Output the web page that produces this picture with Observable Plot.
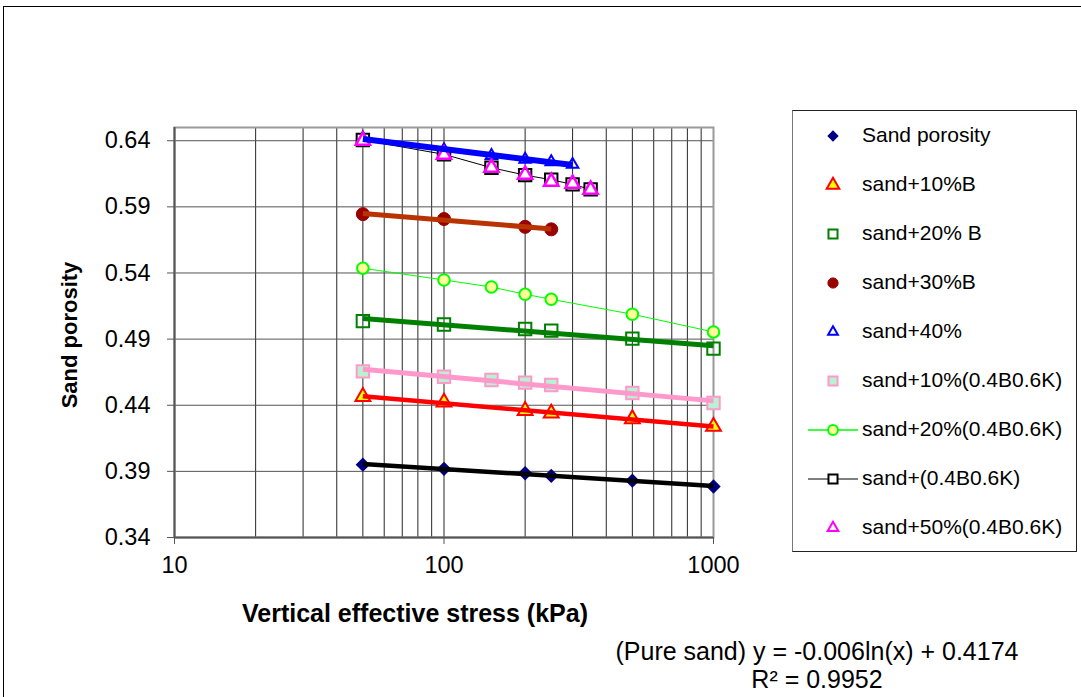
<!DOCTYPE html>
<html><head><meta charset="utf-8">
<script src="https://cdn.jsdelivr.net/npm/d3@7"></script>
<script src="https://cdn.jsdelivr.net/npm/@observablehq/plot@0.6"></script>
<style>
body{margin:0;background:#fff;font-family:Arial,"Liberation Sans",sans-serif;}
#wrap{position:relative;width:1081px;height:697px;overflow:hidden;background:#fff;}
#border{position:absolute;left:3px;top:6px;width:1200px;height:900px;border-top:1.5px solid #000;border-left:1.5px solid #000;box-sizing:border-box;}
#chart{position:absolute;left:0;top:0;}
#legend{position:absolute;left:792px;top:110px;width:285px;height:442px;border:1.5px solid #222;border-left-color:#777;box-sizing:border-box;background:#fff;}
.lrow{position:absolute;left:0;height:30px;display:flex;align-items:center;}
.lrow svg{position:absolute;left:12px;top:0;}
.lrow span{position:absolute;left:69px;white-space:nowrap;font-size:21px;color:#000;}
#xtitle{position:absolute;left:165px;width:500px;top:599px;text-align:center;font-weight:bold;font-size:25px;}
#ytitle{position:absolute;left:-130px;width:400px;top:322px;text-align:center;font-weight:bold;font-size:22px;transform:rotate(-90deg);}
#eq{position:absolute;left:567px;width:500px;top:637px;text-align:center;font-size:25px;line-height:28px;}
</style></head>
<body>
<div id="wrap">
  <div id="border"></div>
  <div id="chart"></div>
  <div id="legend"></div>
  <div id="xtitle">Vertical effective stress (kPa)</div>
  <div id="ytitle">Sand porosity</div>
  <div id="eq">(Pure sand) y = -0.006ln(x) + 0.4174<br>R² = 0.9952</div>
</div>
<script>
// ---- data ----
const stressA = [50, 100, 200, 250, 500, 1000];
const sandPorosity = [0.3951, 0.3919, 0.3886, 0.3866, 0.3830, 0.3785];
const sand10B = [0.4465, 0.4422, 0.4359, 0.4339, 0.4297, 0.4239];
const sand20B = [0.5036, 0.5010, 0.4977, 0.4964, 0.4904, 0.4828];
const stress30B = [50, 100, 200, 250];
const sand30B = [0.5845, 0.5808, 0.5749, 0.5730];
const stress40 = [50, 100, 150, 200, 250, 300];
const sand40 = [0.6420, 0.6330, 0.6287, 0.6259, 0.6240, 0.6220];
const stressK = [50, 100, 150, 200, 250, 500, 1000];
const sand10K = [0.4656, 0.4616, 0.4591, 0.4571, 0.4553, 0.4493, 0.4417];
const sand20K = [0.5436, 0.5347, 0.5294, 0.5239, 0.5201, 0.5088, 0.4954];
const stressK2 = [50, 100, 150, 200, 250, 300, 350];
const sandK = [0.6405, 0.6297, 0.6196, 0.6140, 0.6105, 0.6070, 0.6032];
const sand50K = [0.6400, 0.6294, 0.6196, 0.6143, 0.6090, 0.6075, 0.6030];

const xTicks = [10, 100, 1000];
const xGrid = [10,20,30,40,50,60,70,80,90,100,200,300,400,500,600,700,800,900,1000];
const yTicks = [0.34, 0.39, 0.44, 0.49, 0.54, 0.59, 0.64];

const labels = ["Sand porosity","sand+10%B","sand+20% B","sand+30%B","sand+40%",
  "sand+10%(0.4B0.6K)","sand+20%(0.4B0.6K)","sand+(0.4B0.6K)","sand+50%(0.4B0.6K)"];

// ---- series styling ----
const series = [
  {xs: stressA, ys: sandPorosity, symbol: "diamond2", r: 6.5, fill: "#000080", stroke: "none", sw: 0, trend: {stroke: "#000", w: 4.5}},
  {xs: stressA, ys: sand10B, symbol: "triangle", r: 5.5, fill: "#ffff00", stroke: "#ff0000", sw: 2, trend: {stroke: "#ff0000", w: 4.5}},
  {xs: stressA, ys: sand20B, symbol: "square", r: 7, fill: "none", stroke: "#008000", sw: 2, trend: {stroke: "#008000", w: 5}},
  {xs: stress30B, ys: sand30B, symbol: "circle", r: 6.5, fill: "#990000", stroke: "#990000", sw: 1, trend: {stroke: "#b83300", w: 5}},
  {xs: stress40, ys: sand40, symbol: "triangle2", r: 5.5, fill: "none", stroke: "#0000ff", sw: 2, trend: {stroke: "#0000ff", w: 6}},
  {xs: stressK, ys: sand10K, symbol: "square", r: 7, fill: "#b9f2d0", stroke: "#ff99cc", sw: 2, trend: {stroke: "#ff99cc", w: 5}},
  {xs: stressK, ys: sand20K, symbol: "circle", r: 5.8, fill: "#ffff99", stroke: "#00ff00", sw: 2, line: {stroke: "#00ff00", w: 1}},
  {xs: stressK2, ys: sandK, symbol: "square", r: 7, fill: "#fff", stroke: "#000", sw: 2, line: {stroke: "#000", w: 1}},
  {xs: stressK2, ys: sand50K, symbol: "triangle2", r: 6.8, fill: "none", stroke: "#ff00ff", sw: 2.5}
];

const rows = (s) => s.xs.map((x, i) => ({x, y: s.ys[i]}));
function logFit(xs, ys) {
  const lx = xs.map(Math.log);
  const mx = d3.mean(lx), my = d3.mean(ys);
  const a = d3.sum(lx, (v, i) => (v - mx) * (ys[i] - my)) / d3.sum(lx, v => (v - mx) ** 2);
  const b = my - a * mx;
  const [x0, x1] = d3.extent(xs);
  return [{x: x0, y: a * Math.log(x0) + b}, {x: x1, y: a * Math.log(x1) + b}];
}

const marks = [
  Plot.gridX(xGrid, {stroke: "#000", strokeOpacity: 0.85, strokeWidth: 1}),
  Plot.gridY(yTicks, {stroke: "#555", strokeOpacity: 1, strokeWidth: 1}),
  Plot.frame({stroke: "#999", strokeWidth: 2}),
  Plot.ruleX([10], {stroke: "#555", strokeWidth: 2}),
  Plot.ruleY([0.34], {stroke: "#555", strokeWidth: 2}),
  Plot.axisY(yTicks, {tickSize: 7, tickPadding: 17, tickFormat: d3.format(".2f"), fontSize: 23.5, label: null, stroke: "#555", fill: "#000"}),
  Plot.axisX(xTicks, {tickSize: 7, tickPadding: 12, tickFormat: d => String(d), fontSize: 23.5, label: null, stroke: "#555", fill: "#000"})
];
series.forEach(s => { if (s.line) marks.push(Plot.line(rows(s), {x: "x", y: "y", stroke: s.line.stroke, strokeWidth: s.line.w})); });
series.forEach(s => marks.push(Plot.dot(rows(s), {x: "x", y: "y", symbol: s.symbol, r: s.r, fill: s.fill, stroke: s.stroke, strokeWidth: s.sw})));
series.forEach(s => { if (s.trend) marks.push(Plot.line(logFit(s.xs, s.ys), {x: "x", y: "y", stroke: s.trend.stroke, strokeWidth: s.trend.w, strokeLinecap: "butt"})); });

const chart = Plot.plot({
  width: 1081, height: 697,
  marginLeft: 174, marginRight: 368, marginTop: 127, marginBottom: 160,
  style: {fontFamily: "Arial, 'Liberation Sans', sans-serif", fontSize: "23.5px", color: "#000", background: "transparent", overflow: "visible"},
  x: {type: "log", domain: [10, 1000]},
  y: {domain: [0.34, 0.65]},
  marks
});
document.getElementById("chart").appendChild(chart);

// ---- legend ----
const symMap = {diamond2: d3.symbolDiamond2, triangle: d3.symbolTriangle, triangle2: d3.symbolTriangle2, square: d3.symbolSquare, circle: d3.symbolCircle};
const legend = d3.select("#legend");
series.forEach((s, i) => {
  const row = legend.append("div").attr("class", "lrow").style("top", (10 + i * 49) + "px");
  const svg = row.append("svg").attr("width", 54).attr("height", 30);
  if (s.line) svg.append("line").attr("x1", 3).attr("x2", 53).attr("y1", 15).attr("y2", 15).attr("stroke", s.line.stroke === "#000" ? "#555" : s.line.stroke).attr("stroke-width", 1.5);
  const lr = Math.min(s.r, 6) * 0.85;
  svg.append("path").attr("transform", "translate(28,15)")
    .attr("d", d3.symbol(symMap[s.symbol], Math.PI * lr * lr)())
    .attr("fill", s.fill === "none" ? "#fff" : s.fill).attr("stroke", s.stroke).attr("stroke-width", Math.min(s.sw, 2));
  row.append("span").text(labels[i]).style("top", "2px");
});
</script>
</body></html>
